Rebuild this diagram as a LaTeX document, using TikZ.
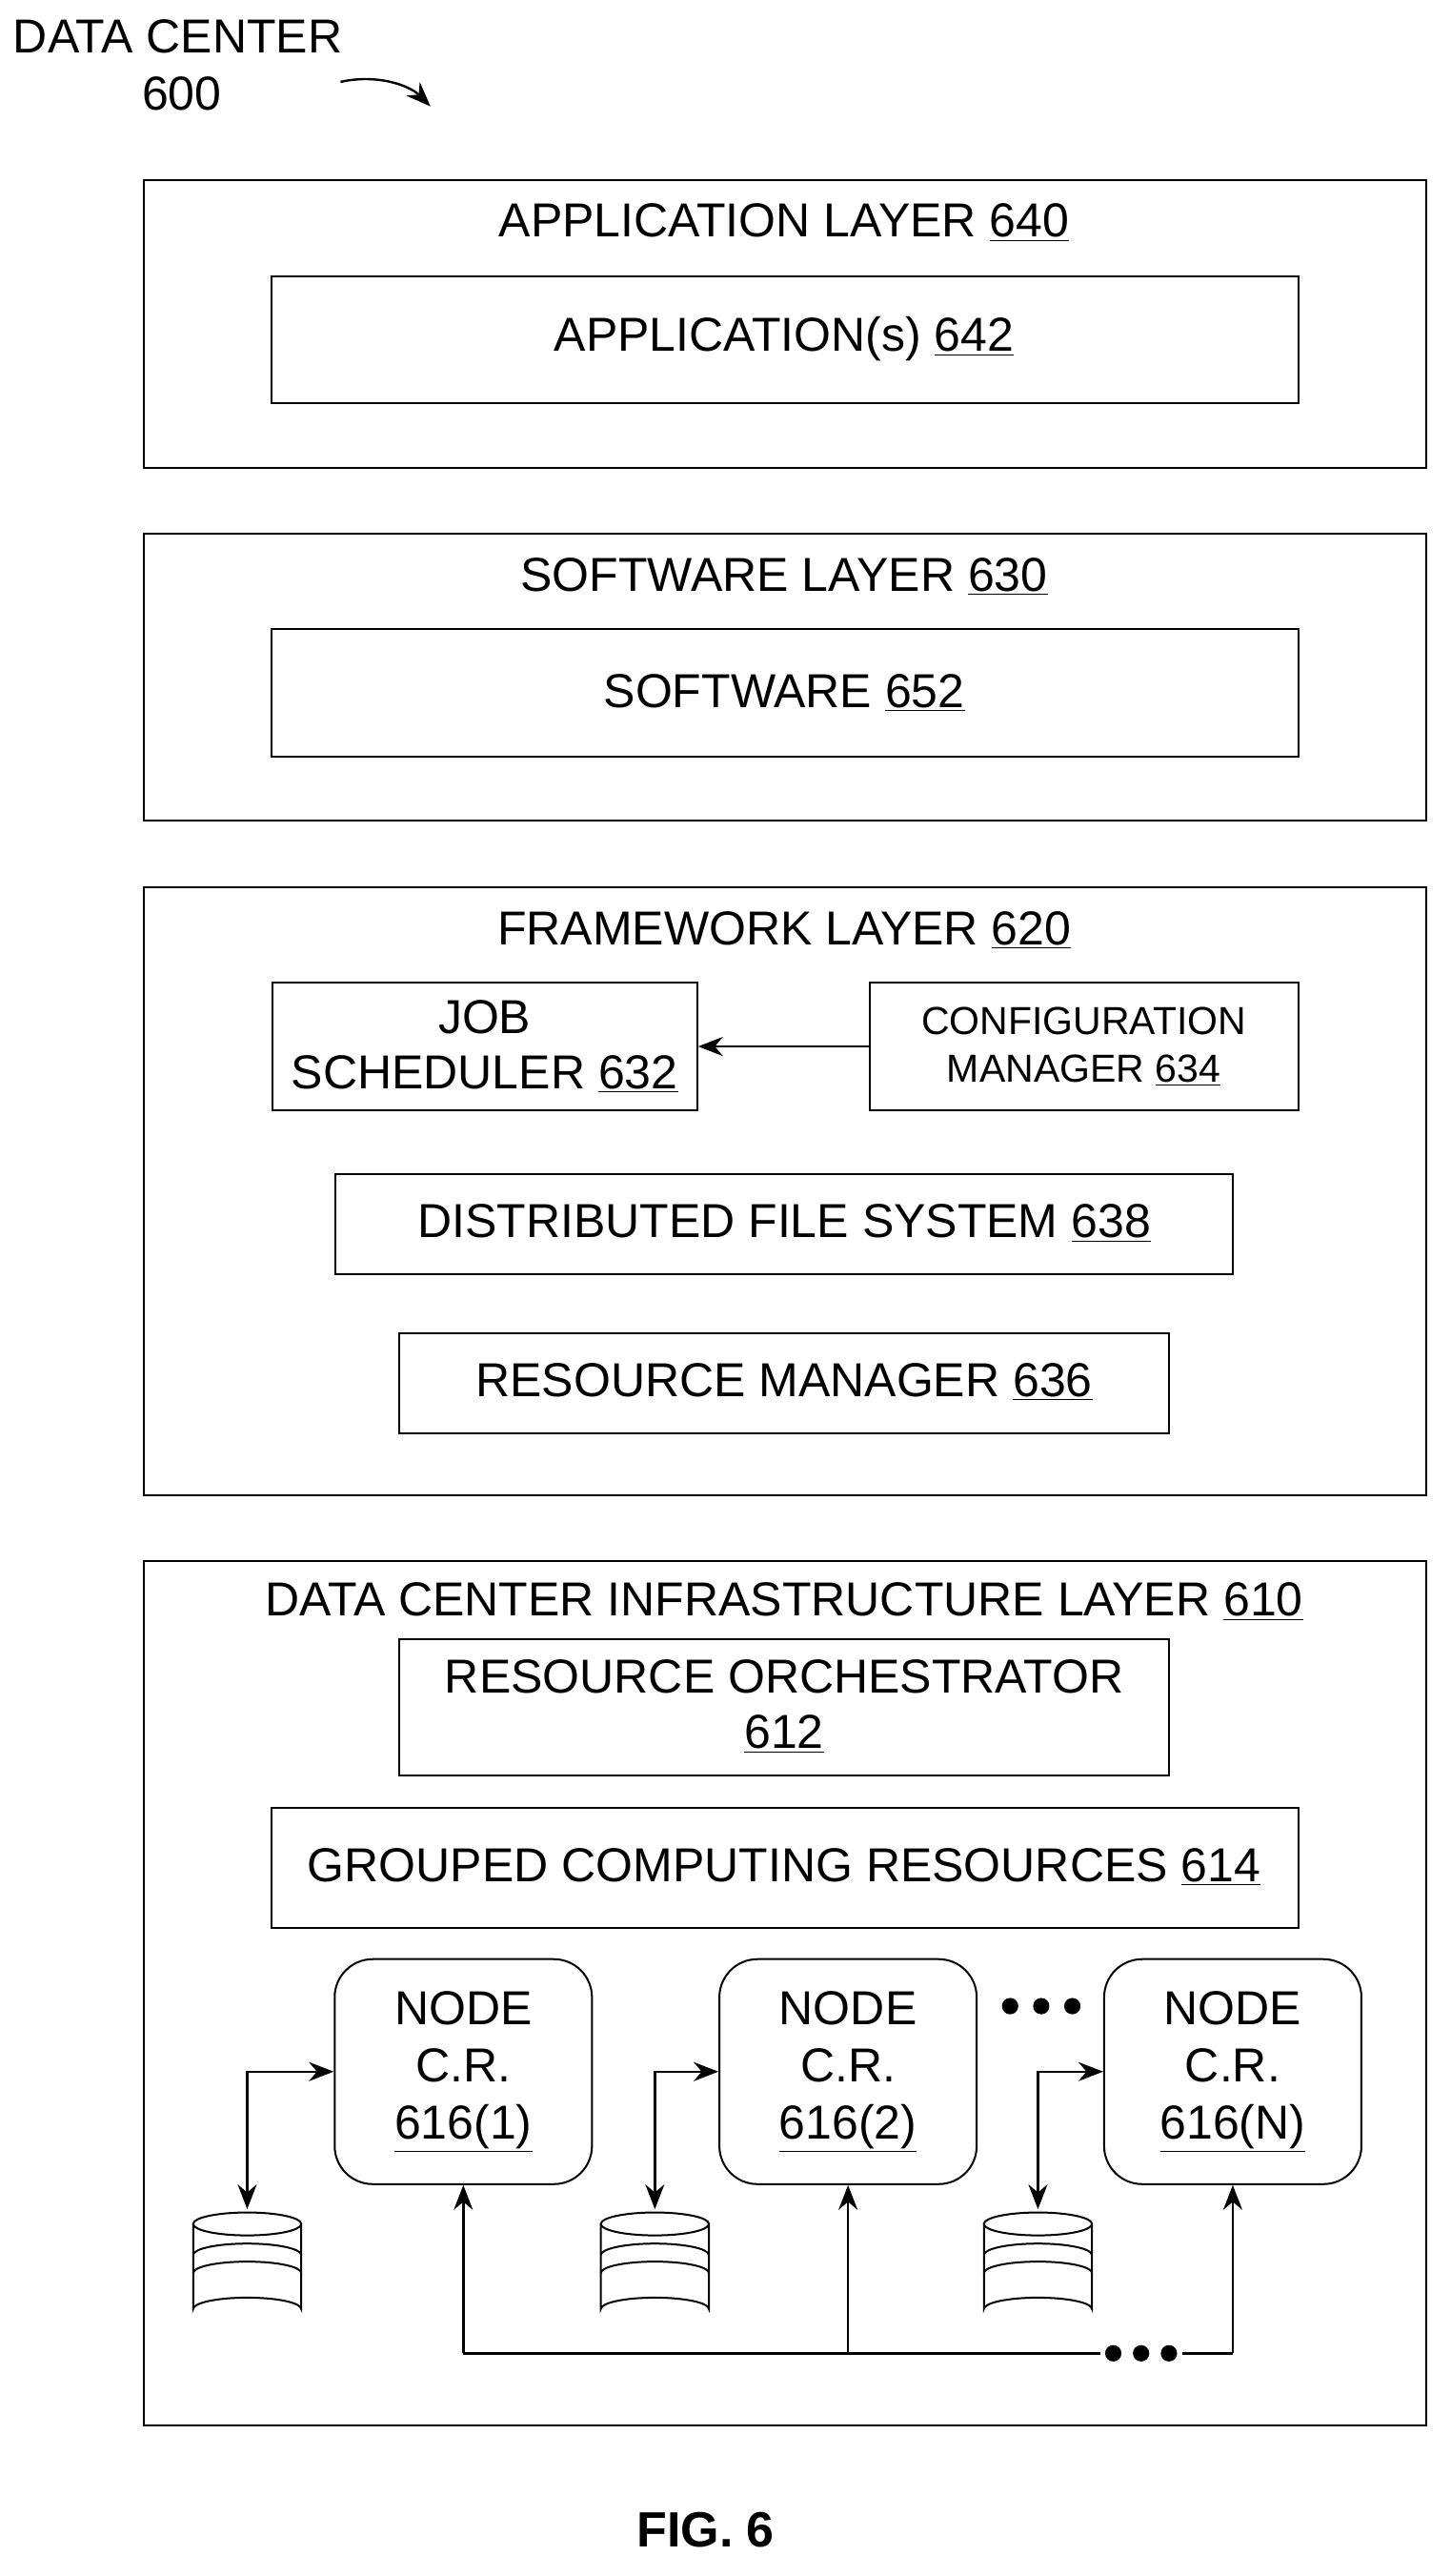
\documentclass[tikz,border=0pt]{standalone}
\usepackage{fontspec}
\setmainfont{Liberation Sans}
\usetikzlibrary{arrows.meta}
\newcommand{\ul}[1]{\underline{#1}}
\begin{document}
\begin{tikzpicture}[x=0.859pt,y=-0.859pt,
  box/.style={draw,line width=1pt},
  txt/.style={font=\fontsize{25}{29}\selectfont,align=center},
  stxt/.style={font=\fontsize{20.5}{25}\selectfont,align=center},
  ntxt/.style={font=\fontsize{25}{30}\selectfont,align=center},
  arr/.style={line width=1.2pt,-{Stealth[length=13pt,width=10pt]}},
  darr/.style={line width=1.2pt,{Stealth[length=13pt,width=10pt]}-{Stealth[length=13pt,width=10pt]}},
  ln/.style={line width=1.2pt}]
\useasboundingbox (0,0) rectangle (886,1573);
% labels
\node[txt,anchor=west] (dc) at (4,22) {DATA CENTER};
\node[txt] (dcn) at (111,57) {600};
\coordinate (ca) at (208,50); \coordinate (cb) at (263,65);
\draw[arr] (ca) .. controls (230,45) and (250,52) .. (cb);
% application
\draw[box] (88,110) rectangle (871,286);
\node[txt] (al) at (479,136) {APPLICATION LAYER \ul{640}};
\draw[box] (166,169) rectangle (793,246);
\node[txt] (ap) at (479,207) {APPLICATION(s) \ul{642}};
% software
\draw[box] (88,326) rectangle (871,501);
\node[txt] (sl) at (479,352) {SOFTWARE LAYER \ul{630}};
\draw[box] (166,384) rectangle (793,462);
\node[txt] (sw) at (479,423) {SOFTWARE \ul{652}};
% framework
\draw[box] (88,542) rectangle (871,913);
\node[txt] (fl) at (479,568) {FRAMEWORK LAYER \ul{620}};
\node[box,minimum width=223pt,minimum height=67pt,inner sep=0pt] (js) at (296,639) {};
\node[txt] at (js) {JOB\\SCHEDULER \ul{632}};
\node[box,minimum width=225pt,minimum height=67pt,inner sep=0pt] (cm) at (662,639) {};
\node[stxt] at (cm) {CONFIGURATION\\MANAGER \ul{634}};
\draw[arr] (cm.west) -- (js.east);
\draw[box] (205,717) rectangle (753,778);
\node[txt] (dfs) at (479,747) {DISTRIBUTED FILE SYSTEM \ul{638}};
\draw[box] (244,814) rectangle (714,875);
\node[txt] (rm) at (479,844) {RESOURCE MANAGER \ul{636}};
% infrastructure
\draw[box] (88,953) rectangle (871,1481);
\node[txt] (il) at (479,978) {DATA CENTER INFRASTRUCTURE LAYER \ul{610}};
\draw[box] (244,1001) rectangle (714,1084);
\node[txt] (ro) at (479,1042) {RESOURCE ORCHESTRATOR\\\ul{612}};
\draw[box] (166,1104) rectangle (793,1177);
\node[txt] (gc) at (479,1140) {GROUPED COMPUTING RESOURCES \ul{614}};
\foreach \i/\x/\l in {1/283/1,2/518/2,3/753/N}{
  \node[box,rounded corners=20pt,minimum width=135pt,minimum height=118pt,inner sep=0pt] (n\i) at (\x,1265) {};
  \node[ntxt] at (n\i) {NODE\\C.R.\\\ul{616(\l)}};
}
% cylinders
\foreach \i/\x in {1/151,2/400,3/634}{
  \begin{scope}[shift={(\x,0)}]
  \draw[line width=1pt,fill=white] (-33,1358) -- (-33,1410) arc[start angle=180,end angle=360,x radius=33,y radius=7] -- (33,1358);
  \draw[line width=1pt] (0,1358) ellipse[x radius=33,y radius=7];
  \draw[line width=1pt] (-33,1377) arc[start angle=180,end angle=360,x radius=33,y radius=7];
  \draw[line width=1pt] (-33,1388) arc[start angle=180,end angle=360,x radius=33,y radius=7];
  \end{scope}
  \coordinate (c\i) at (\x,1349);
}
\draw[darr] (c1) |- (n1.west);
\draw[darr] (c2) |- (n2.west);
\draw[darr] (c3) |- (n3.west);
% bottom bus
\coordinate (b1) at (283,1437); \coordinate (b2) at (518,1437);
\coordinate (b3) at (672,1437); \coordinate (b4) at (722,1437); \coordinate (b5) at (753,1437);
\draw[ln] (b1) -- (b3);
\draw[ln] (b4) -- (b5);
\draw[arr] (b1) -- (n1.south);
\draw[arr] (b2) -- (n2.south);
\draw[arr] (b5) -- (n3.south);
\foreach \x in {680,697,714} \fill (\x,1437) circle (5);
\foreach \x in {617,636,655} \fill (\x,1225) circle (5);
\node[font=\bfseries\fontsize{26}{28}\selectfont] (fig) at (431,1545) {FIG. 6};
\end{tikzpicture}
\end{document}
